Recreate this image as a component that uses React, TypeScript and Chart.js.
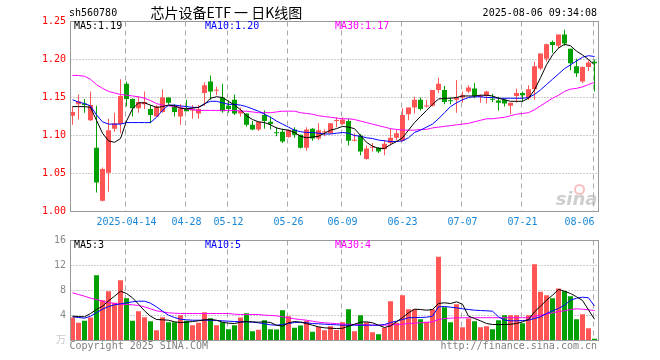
import React, { useEffect, useRef } from 'react';
import { Chart, registerables } from 'chart.js';

Chart.register(...registerables);

const MONO = "'DejaVu Sans Mono', 'Noto Sans CJK SC', monospace";

const stockCode = 'sh560780';
const chartTitle = '芯片设备ETF 一 日K线图';
const timeStamp = '2025-08-06 09:34:08';
const year = '2025';

const dates = [
  '03-31', '04-01', '04-02', '04-03', '04-07', '04-08', '04-09', '04-10', '04-11',
  '04-14', '04-15', '04-16', '04-17', '04-18', '04-21', '04-22', '04-23', '04-24', '04-25',
  '04-28', '04-29', '04-30', '05-06', '05-07', '05-08', '05-09',
  '05-12', '05-13', '05-14', '05-15', '05-16', '05-19', '05-20', '05-21', '05-22', '05-23',
  '05-26', '05-27', '05-28', '05-29', '05-30', '06-03', '06-04', '06-05', '06-06',
  '06-09', '06-10', '06-11', '06-12', '06-13', '06-16', '06-17', '06-18', '06-19', '06-20',
  '06-23', '06-24', '06-25', '06-26', '06-27', '06-30', '07-01', '07-02', '07-03', '07-04',
  '07-07', '07-08', '07-09', '07-10', '07-11', '07-14', '07-15', '07-16', '07-17', '07-18',
  '07-21', '07-22', '07-23', '07-24', '07-25', '07-28', '07-29', '07-30', '07-31', '08-01',
  '08-04', '08-05', '08-06',
];

const gridDates = ['04-14', '04-28', '05-12', '05-26', '06-09', '06-23', '07-07', '07-21', '08-06'];

const openP = [
  1.126, 1.141, 1.142, 1.120, 1.084, 1.014, 1.051, 1.109, 1.115, 1.168,
  1.148, 1.136, 1.141, 1.135, 1.125, 1.131, 1.150, 1.138, 1.125, 1.136,
  1.133, 1.129, 1.156, 1.171, 1.159, 1.150, 1.139, 1.147, 1.129, 1.129,
  1.114, 1.108, 1.127, 1.118, 1.104, 1.105, 1.098, 1.108, 1.101, 1.084,
  1.109, 1.096, 1.104, 1.103, 1.119, 1.115, 1.119, 1.093, 1.100, 1.069,
  1.084, 1.084, 1.082, 1.090, 1.097, 1.093, 1.128, 1.137, 1.147, 1.138,
  1.139, 1.160, 1.160, 1.146, 1.147, 1.150, 1.158, 1.162, 1.151, 1.152,
  1.148, 1.146, 1.147, 1.139, 1.152, 1.156, 1.149, 1.161, 1.188, 1.201,
  1.223, 1.218, 1.233, 1.214, 1.191, 1.171, 1.190, 1.197,
];
const highP = [
  1.138, 1.154, 1.148, 1.158, 1.139, 1.058, 1.122, 1.130, 1.174, 1.171,
  1.149, 1.151, 1.158, 1.140, 1.140, 1.161, 1.150, 1.141, 1.141, 1.147,
  1.140, 1.140, 1.170, 1.179, 1.164, 1.168, 1.146, 1.154, 1.137, 1.129,
  1.119, 1.118, 1.133, 1.125, 1.111, 1.109, 1.108, 1.111, 1.101, 1.111,
  1.110, 1.116, 1.108, 1.116, 1.124, 1.124, 1.122, 1.103, 1.102, 1.087,
  1.090, 1.085, 1.094, 1.109, 1.108, 1.136, 1.137, 1.151, 1.150, 1.147,
  1.160, 1.176, 1.165, 1.150, 1.173, 1.158, 1.166, 1.169, 1.154, 1.159,
  1.155, 1.151, 1.149, 1.143, 1.162, 1.158, 1.166, 1.197, 1.208, 1.221,
  1.225, 1.233, 1.239, 1.214, 1.201, 1.191, 1.199, 1.200,
];
const lowP = [
  1.114, 1.121, 1.130, 1.119, 1.025, 1.013, 1.026, 1.105, 1.103, 1.138,
  1.125, 1.130, 1.135, 1.116, 1.124, 1.130, 1.141, 1.125, 1.114, 1.132,
  1.122, 1.122, 1.139, 1.147, 1.153, 1.130, 1.130, 1.127, 1.125, 1.112,
  1.107, 1.106, 1.109, 1.108, 1.099, 1.090, 1.097, 1.097, 1.083, 1.080,
  1.093, 1.094, 1.099, 1.102, 1.111, 1.114, 1.087, 1.092, 1.074, 1.068,
  1.079, 1.077, 1.074, 1.087, 1.093, 1.092, 1.120, 1.129, 1.133, 1.137,
  1.138, 1.156, 1.141, 1.141, 1.130, 1.143, 1.156, 1.149, 1.143, 1.142,
  1.144, 1.133, 1.138, 1.128, 1.143, 1.144, 1.147, 1.147, 1.186, 1.197,
  1.209, 1.215, 1.218, 1.186, 1.177, 1.169, 1.185, 1.158,
];
const closeP = [
  1.131, 1.145, 1.140, 1.140, 1.038, 1.056, 1.107, 1.116, 1.152, 1.148,
  1.136, 1.144, 1.144, 1.127, 1.138, 1.150, 1.143, 1.131, 1.136, 1.132,
  1.135, 1.135, 1.166, 1.158, 1.160, 1.132, 1.135, 1.129, 1.133, 1.114,
  1.108, 1.118, 1.119, 1.115, 1.103, 1.092, 1.107, 1.101, 1.084, 1.108,
  1.096, 1.107, 1.105, 1.116, 1.120, 1.121, 1.093, 1.094, 1.079, 1.083,
  1.085, 1.079, 1.089, 1.097, 1.103, 1.127, 1.137, 1.147, 1.135, 1.139,
  1.160, 1.168, 1.144, 1.145, 1.150, 1.153, 1.163, 1.152, 1.152, 1.158,
  1.147, 1.143, 1.142, 1.143, 1.156, 1.153, 1.161, 1.191, 1.208, 1.220,
  1.219, 1.233, 1.221, 1.195, 1.182, 1.190, 1.196, 1.195,
];

const ma5 = [
  1.138, 1.138, 1.138, 1.137, 1.120, 1.103, 1.093, 1.091, 1.096, 1.119,
  1.135, 1.143, 1.143, 1.140, 1.137, 1.138, 1.140, 1.139, 1.136, 1.135,
  1.136, 1.137, 1.141, 1.149, 1.151, 1.150, 1.145, 1.140, 1.134, 1.126,
  1.121, 1.118, 1.117, 1.114, 1.110, 1.108, 1.107, 1.104, 1.099, 1.097,
  1.098, 1.099, 1.103, 1.107, 1.109, 1.112, 1.111, 1.109, 1.100, 1.091,
  1.086, 1.083, 1.083, 1.088, 1.092, 1.097, 1.107, 1.117, 1.125, 1.133,
  1.141, 1.148, 1.149, 1.149, 1.150, 1.152, 1.152, 1.152, 1.153, 1.153,
  1.152, 1.149, 1.147, 1.145, 1.145, 1.145, 1.149, 1.160, 1.176, 1.193,
  1.206, 1.215, 1.220, 1.218, 1.211, 1.206, 1.200, 1.193,
];
const ma10 = [
  1.147, 1.144, 1.142, 1.139, 1.127, 1.118, 1.115, 1.115, 1.115, 1.117,
  1.117, 1.117, 1.117, 1.117, 1.124, 1.133, 1.140, 1.140, 1.139, 1.138,
  1.137, 1.137, 1.142, 1.145, 1.145, 1.143, 1.141, 1.141, 1.140, 1.138,
  1.135, 1.132, 1.128, 1.124, 1.119, 1.115, 1.111, 1.107, 1.105, 1.104,
  1.104, 1.103, 1.102, 1.102, 1.103, 1.104, 1.103, 1.100, 1.099, 1.097,
  1.096, 1.094, 1.093, 1.092, 1.092, 1.093, 1.097, 1.104, 1.107, 1.111,
  1.115, 1.122, 1.130, 1.138, 1.143, 1.147, 1.150, 1.151, 1.151, 1.150,
  1.150, 1.149, 1.149, 1.149, 1.149, 1.149, 1.150, 1.154, 1.160, 1.167,
  1.174, 1.181, 1.188, 1.193, 1.198, 1.203, 1.205, 1.204,
];
const ma30 = [
  1.179, 1.179, 1.178, 1.174, 1.167, 1.162, 1.158, 1.156, 1.154, 1.153,
  1.152, 1.151, 1.149, 1.146, 1.142, 1.140, 1.139, 1.138, 1.137, 1.135,
  1.134, 1.133, 1.133, 1.133, 1.133, 1.133, 1.133, 1.133, 1.132, 1.132,
  1.131, 1.130, 1.130, 1.130, 1.131, 1.132, 1.132, 1.132, 1.130, 1.129,
  1.128, 1.126, 1.125, 1.124, 1.123, 1.122, 1.122, 1.121, 1.119, 1.117,
  1.115, 1.113, 1.111, 1.109, 1.108, 1.107, 1.107, 1.107, 1.108, 1.108,
  1.110, 1.111, 1.112, 1.113, 1.114, 1.115, 1.116, 1.118, 1.120, 1.122,
  1.122, 1.123, 1.124, 1.126, 1.128, 1.129, 1.130, 1.134, 1.139, 1.144,
  1.149, 1.153, 1.158, 1.161, 1.162, 1.164, 1.167, 1.170,
];

const volume = [
  3.68, 2.83, 3.15, 3.68, 10.45, 6.45, 7.89, 6.03, 9.65, 6.77,
  3.15, 4.69, 3.73, 3.09, 1.65, 3.73, 2.93, 2.93, 4.05, 3.15,
  2.45, 2.83, 4.53, 3.57, 2.45, 2.93, 1.81, 2.45, 3.68, 4.37,
  1.49, 1.71, 3.25, 1.81, 1.76, 4.85, 3.89, 2.03, 2.40, 3.15,
  1.39, 2.19, 1.65, 2.29, 1.70, 2.93, 5.01, 1.49, 4.05, 2.93,
  1.33, 1.01, 2.03, 6.29, 2.83, 7.25, 5.01, 5.01, 3.41, 2.99,
  5.01, 13.39, 5.33, 2.93, 5.81, 2.13, 3.52, 3.09, 2.13, 2.29,
  1.81, 3.25, 4.05, 4.05, 4.05, 2.77, 4.05, 12.21, 7.79, 7.25,
  6.77, 8.32, 7.89, 7.09, 3.41, 4.21, 1.97, 0.27,
];
const volMa5 = [
  3.89, 3.84, 3.79, 4.32, 4.96, 5.49, 6.35, 7.09, 7.89, 7.52,
  6.83, 5.81, 4.75, 3.89, 3.36, 3.31, 3.25, 2.99, 2.88, 2.93,
  3.04, 3.15, 3.31, 3.36, 3.25, 2.93, 2.77, 2.72, 2.93, 3.04,
  2.99, 2.93, 2.99, 2.88, 2.45, 2.29, 2.83, 3.04, 2.93, 2.72,
  2.45, 2.19, 2.03, 1.97, 1.92, 1.95, 2.30, 2.61, 2.93, 2.99,
  2.83, 2.45, 2.08, 2.35, 2.99, 3.68, 4.43, 5.01, 4.96, 4.85,
  4.96, 5.92, 6.03, 5.92, 6.19, 5.81, 3.89, 3.52, 3.15, 2.72,
  2.56, 2.56, 2.56, 2.61, 2.72, 2.99, 3.36, 4.59, 5.49, 6.45,
  7.25, 8.16, 7.89, 7.52, 7.00, 6.40, 4.90, 3.40,
];
const volMa10 = [
  3.79, 3.68, 3.57, 3.89, 4.48, 5.01, 5.44, 5.71, 5.87, 6.03,
  6.19, 6.29, 6.29, 5.97, 5.39, 4.69, 4.05, 3.68, 3.41, 3.31,
  3.25, 3.25, 3.25, 3.25, 3.20, 3.15, 3.09, 3.04, 2.99, 2.99,
  2.93, 2.83, 2.67, 2.51, 2.45, 2.56, 2.72, 2.88, 2.93, 2.83,
  2.72, 2.67, 2.61, 2.56, 2.51, 2.45, 2.45, 2.45, 2.45, 2.45,
  2.45, 2.45, 2.56, 2.88, 3.09, 3.36, 3.63, 3.68, 3.68, 3.73,
  3.89, 5.39, 5.44, 5.33, 5.23, 5.07, 4.96, 4.85, 4.80, 4.75,
  4.69, 3.79, 3.25, 3.15, 3.15, 3.20, 3.25, 3.52, 3.79, 4.32,
  4.75, 5.12, 5.65, 6.45, 6.77, 6.93, 6.83, 5.50,
];
const volMa30 = [
  7.63, 7.36, 7.09, 6.77, 6.56, 6.29, 6.08, 5.92, 5.81, 5.76,
  5.71, 5.60, 5.39, 5.07, 4.75, 4.59, 4.43, 4.37, 4.32, 4.32,
  4.32, 4.32, 4.32, 4.32, 4.32, 4.32, 4.32, 4.21, 4.16, 4.16,
  4.16, 4.16, 4.05, 4.00, 3.95, 3.79, 3.63, 3.47, 3.36, 3.25,
  3.09, 2.93, 2.83, 2.77, 2.72, 2.61, 2.61, 2.56, 2.51, 2.51,
  2.45, 2.45, 2.45, 2.51, 2.56, 2.61, 2.72, 2.77, 2.83, 2.88,
  2.99, 3.36, 3.52, 3.57, 3.63, 3.63, 3.65, 3.65, 3.65, 3.65,
  3.65, 3.65, 3.65, 3.65, 3.65, 3.65, 3.65, 3.89, 4.05, 4.21,
  4.43, 4.64, 4.75, 4.96, 5.07, 5.01, 4.91, 4.80,
];

const priceTicks = [1.0, 1.05, 1.1, 1.15, 1.2, 1.25];
const volTicks = [0, 4, 8, 12, 16];

const UP = '#FF5555';
const DOWN = '#00A000';
const MA5C = '#000000';
const MA10C = '#0000FF';
const MA30C = '#FF00FF';

const candleColors = closeP.map((c, i) => (c >= openP[i] ? UP : DOWN));
const last = dates.length - 1;

function frame(a: any) {
  return {
    L: Math.round(a.left) + 0.5,
    R: Math.round(a.right) + 0.5,
    T: Math.floor(a.top) + 0.5,
    B: Math.floor(a.bottom) + 0.5,
  };
}

function drawGrid(chart: any, ticks: number[]) {
  const { ctx, chartArea, scales } = chart;
  const { L, R, T, B } = frame(chartArea);
  ctx.save();
  ctx.lineWidth = 1;
  ctx.strokeStyle = '#9a9a9a';
  ctx.setLineDash([1, 2]);
  ticks.slice(1, -1).forEach((v) => {
    const py = Math.floor(scales.y.getPixelForValue(v)) + 0.5;
    ctx.beginPath();
    ctx.moveTo(L, py);
    ctx.lineTo(R, py);
    ctx.stroke();
  });
  ctx.strokeStyle = '#a8a8a8';
  ctx.setLineDash([5, 4]);
  gridDates.forEach((d) => {
    const idx = dates.indexOf(d);
    const px = Math.floor(scales.x.getPixelForValue(idx)) - 0.5;
    ctx.beginPath();
    ctx.moveTo(px, T);
    ctx.lineTo(px, B);
    ctx.stroke();
  });
  ctx.restore();
}

function drawBox(chart: any) {
  const { ctx, chartArea } = chart;
  const { L, R, T, B } = frame(chartArea);
  ctx.save();
  ctx.setLineDash([]);
  ctx.lineWidth = 1;
  ctx.strokeStyle = '#999999';
  ctx.strokeRect(L, T, R - L, B - T);
  ctx.restore();
}

function drawLegend(chart: any, items: [string, string][]) {
  const { ctx, chartArea } = chart;
  const { T } = frame(chartArea);
  const xs = [74, 205, 335];
  ctx.save();
  ctx.font = `10px ${MONO}`;
  ctx.textAlign = 'left';
  ctx.textBaseline = 'middle';
  items.forEach(([t, c], i) => {
    ctx.fillStyle = c;
    ctx.fillText(t, xs[i], T + 5);
  });
  ctx.restore();
}

const mainDecor = {
  id: 'mainDecor',
  beforeDatasetsDraw(chart: any) {
    drawGrid(chart, priceTicks);
    const { ctx, chartArea } = chart;
    const { R, B } = frame(chartArea);
    ctx.save();
    ctx.strokeStyle = 'rgba(240,150,150,0.6)';
    ctx.lineWidth = 2;
    ctx.beginPath();
    ctx.arc(R - 19, B - 22, 4.5, 0, Math.PI * 2);
    ctx.stroke();
    ctx.font = `italic bold 18px 'DejaVu Sans', sans-serif`;
    ctx.fillStyle = 'rgba(190,190,190,0.75)';
    ctx.textAlign = 'right';
    ctx.textBaseline = 'alphabetic';
    ctx.fillText('sina', R - 1, B - 7);
    ctx.restore();
  },
  afterDatasetsDraw(chart: any) {
    drawBox(chart);
    drawLegend(chart, [
      [`MA5:${ma5[last].toFixed(2)}`, MA5C],
      [`MA10:${ma10[last].toFixed(2)}`, MA10C],
      [`MA30:${ma30[last].toFixed(2)}`, MA30C],
    ]);
  },
  afterDraw(chart: any) {
    const { ctx } = chart;
    ctx.save();
    ctx.fillStyle = '#000';
    ctx.textBaseline = 'middle';
    ctx.font = `10px ${MONO}`;
    ctx.textAlign = 'left';
    ctx.fillText(stockCode, 69, 13.5);
    ctx.textAlign = 'right';
    ctx.fillText(timeStamp, 597, 13.5);
    ctx.textAlign = 'left';
    ctx.font = `14px 'Noto Sans CJK SC', sans-serif`;
    ctx.fillText(chartTitle, 150.5, 12.5);
    ctx.restore();
  },
};

const volDecor = {
  id: 'volDecor',
  beforeDatasetsDraw(chart: any) {
    drawGrid(chart, volTicks);
  },
  afterDatasetsDraw(chart: any) {
    drawBox(chart);
    drawLegend(chart, [
      [`MA5:${Math.floor(volMa5[last])}`, MA5C],
      [`MA10:${Math.floor(volMa10[last])}`, MA10C],
      [`MA30:${Math.floor(volMa30[last])}`, MA30C],
    ]);
  },
  afterDraw(chart: any) {
    const { ctx } = chart;
    ctx.save();
    ctx.fillStyle = '#808080';
    ctx.textBaseline = 'middle';
    ctx.font = `10px ${MONO}`;
    ctx.textAlign = 'left';
    ctx.fillText('Copyright 2025 SINA.COM', 69.5, 346.5);
    ctx.textAlign = 'right';
    ctx.fillText('http://finance.sina.com.cn', 597, 346.5);
    ctx.restore();
  },
};

function lineDs(label: string, data: number[], color: string) {
  return {
    type: 'line' as const,
    label,
    data,
    borderColor: color,
    backgroundColor: color,
    borderWidth: 1,
    pointRadius: 0,
    tension: 0,
    fill: false,
    order: 0,
  };
}

export default function App() {
  const mainRef = useRef<HTMLCanvasElement>(null);
  const volRef = useRef<HTMLCanvasElement>(null);

  useEffect(() => {
    const firstGrid = dates.indexOf(gridDates[0]);
    const main = new Chart(mainRef.current as HTMLCanvasElement, {
      type: 'bar',
      data: {
        labels: dates,
        datasets: [
          lineDs('MA5', ma5, MA5C),
          lineDs('MA10', ma10, MA10C),
          lineDs('MA30', ma30, MA30C),
          {
            type: 'bar',
            label: 'body',
            data: openP.map((o, i) => [o, closeP[i]]),
            backgroundColor: candleColors,
            borderWidth: 0,
            barThickness: 5,
            grouped: false,
            minBarLength: 1,
            inflateAmount: 0,
            order: 1,
          } as any,
          {
            type: 'bar',
            label: 'wick',
            data: lowP.map((l, i) => [l, highP[i]]),
            backgroundColor: candleColors,
            borderWidth: 0,
            barThickness: 1,
            grouped: false,
            inflateAmount: 0,
            order: 2,
          } as any,
        ],
      },
      options: {
        responsive: false,
        animation: false,
        devicePixelRatio: 1,
        events: [],
        layout: { padding: { left: 0, right: 62.5, top: 21.5, bottom: 128.5 } },
        plugins: { legend: { display: false }, tooltip: { enabled: false } },
        scales: {
          x: {
            type: 'category',
            offset: true,
            grid: { display: false, drawTicks: false },
            border: { display: false },
            ticks: {
              autoSkip: false,
              maxRotation: 0,
              minRotation: 0,
              align: 'inner',
              padding: 5,
              color: '#1a87d7',
              font: { family: MONO, size: 10 },
              callback: (_v: any, idx: number) => {
                const d = dates[idx];
                if (!gridDates.includes(d)) return '';
                return idx === firstGrid ? `${year}-${d}` : d;
              },
            },
            afterFit: (s: any) => {
              s.height = 20;
            },
          },
          y: {
            type: 'linear',
            min: priceTicks[0],
            max: priceTicks[priceTicks.length - 1],
            grid: { display: false, drawTicks: false },
            border: { display: false },
            afterBuildTicks: (s: any) => {
              s.ticks = priceTicks.map((v) => ({ value: v }));
            },
            ticks: {
              padding: 3.5,
              color: '#FF0000',
              font: { family: MONO, size: 10 },
              callback: (v: any) => Number(v).toFixed(2),
            },
            afterFit: (s: any) => {
              s.width = 69.5;
            },
          },
        },
      } as any,
      plugins: [mainDecor],
    });

    const vol = new Chart(volRef.current as HTMLCanvasElement, {
      type: 'bar',
      data: {
        labels: dates,
        datasets: [
          lineDs('MA5', volMa5, MA5C),
          lineDs('MA10', volMa10, MA10C),
          lineDs('MA30', volMa30, MA30C),
          {
            type: 'bar',
            label: 'volume',
            data: volume,
            backgroundColor: candleColors,
            borderWidth: 0,
            barThickness: 5,
            grouped: false,
            inflateAmount: 0,
            order: 1,
          } as any,
        ],
      },
      options: {
        responsive: false,
        animation: false,
        devicePixelRatio: 1,
        events: [],
        layout: { padding: { left: 0, right: 62.5, top: 240.5, bottom: 19.5 } },
        plugins: { legend: { display: false }, tooltip: { enabled: false } },
        scales: {
          x: { type: 'category', offset: true, display: false },
          y: {
            type: 'linear',
            min: volTicks[0],
            max: volTicks[volTicks.length - 1],
            grid: { display: false, drawTicks: false },
            border: { display: false },
            afterBuildTicks: (s: any) => {
              s.ticks = volTicks.map((v) => ({ value: v }));
            },
            ticks: {
              padding: 3.5,
              color: (c: any) => (c.tick && c.tick.value === 0 ? '#c8c8c8' : '#888888'),
              font: { family: MONO, size: 10 },
              callback: (v: any) => (Number(v) === 0 ? '万' : String(v)),
            },
            afterFit: (s: any) => {
              s.width = 69.5;
            },
          },
        },
      } as any,
      plugins: [volDecor],
    });

    return () => {
      main.destroy();
      vol.destroy();
    };
  }, []);

  return (
    <div style={{ position: 'absolute', left: 0, top: 0, width: 660, height: 360, background: '#fff' }}>
      <canvas ref={mainRef} width={660} height={360} style={{ position: 'absolute', left: 0, top: 0, width: 660, height: 360 }} />
      <canvas ref={volRef} width={660} height={360} style={{ position: 'absolute', left: 0, top: 0, width: 660, height: 360 }} />
    </div>
  );
}
